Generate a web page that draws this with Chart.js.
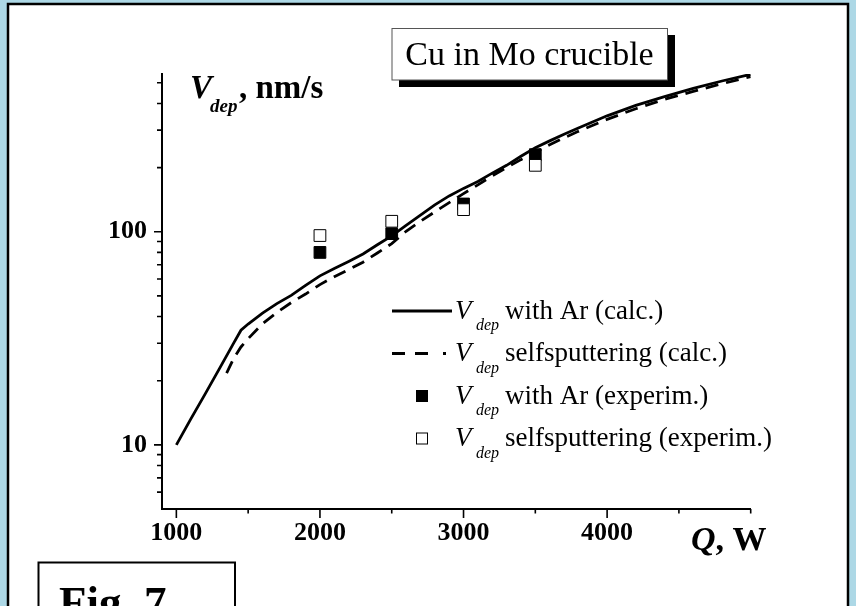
<!DOCTYPE html>
<html>
<head>
<meta charset="utf-8">
<script src="https://cdn.jsdelivr.net/npm/chart.js@4.4.1/dist/chart.umd.min.js"></script>
<style>
  html, body { margin: 0; padding: 0; background: #add8e6; }
  canvas { display: block; }
</style>
</head>
<body>
<canvas id="c" width="856" height="606"></canvas>
<script>
// Deposition rate of Cu evaporated from a Mo crucible versus discharge power
const powerAr = [1000, 1100, 1200, 1300, 1400, 1450, 1500, 1600, 1700, 1800, 1900, 2000, 2100, 2200, 2300, 2400, 2500, 2600, 2700, 2800, 2900, 3000, 3100, 3200, 3300, 3400, 3500, 3600, 3700, 3800, 4000, 4200, 4400, 4600, 4800, 5000];
const rateAr = [10, 13.2, 17.3, 22.8, 30.1, 34.5, 36.9, 41.5, 46.0, 50.3, 56.0, 62.1, 67.3, 72.6, 78.6, 86.9, 95.7, 107.2, 119.8, 133.7, 147.3, 159.8, 172.3, 188.4, 205, 226, 248, 267, 287, 307, 350, 392, 431, 471, 510, 548];

const powerSelf = [1350, 1400, 1450, 1500, 1600, 1700, 1800, 1900, 2000, 2100, 2200, 2300, 2400, 2500, 2600, 2700, 2800, 2900, 3000, 3100, 3200, 3300, 3400, 3500, 3600, 3700, 3800, 4000, 4200, 4400, 4600, 4800, 5000];
const rateSelf = [21.7, 25.5, 28.8, 31.5, 37, 41.8, 46.5, 51, 56.5, 61.5, 66.5, 72, 79.5, 88, 100.5, 112, 124, 137, 151, 166, 183, 200, 218, 236, 256, 276, 296, 337, 378, 418, 456, 495, 535];

const expPower = [2000, 2500, 3000, 3500];
const expRateAr = [80, 98, 135, 230];
const expRateSelf = [96, 112, 127, 205];

const xLabelTicks = [1000, 2000, 3000, 4000];
const xMajorTicks = [1000, 2000, 3000, 4000];
const xMinorTicks = [1500, 2500, 3500, 4500, 5000];
const yLabelTicks = [10, 100];
const yMajorTicks = [10, 100];
const yMinorTicks = [6, 7, 8, 9, 20, 30, 40, 50, 60, 70, 80, 90, 200, 300, 400, 500];

const chartTitle = 'Cu in Mo crucible';
const figLabel = 'Fig. 7';
const legendTexts = ['with Ar (calc.)', 'selfsputtering (calc.)', 'with Ar (experim.)', 'selfsputtering (experim.)'];

const SERIF = '"Liberation Serif", "Times New Roman", serif';
const toPoints = (xs, ys) => xs.map((x, i) => ({ x, y: ys[i] }));

// Page frame, title box and figure tag behind the plot
const framePlugin = {
  id: 'frame',
  beforeDraw(chart) {
    const ctx = chart.ctx;
    ctx.save();
    ctx.fillStyle = '#add8e6';
    ctx.fillRect(0, 0, 856, 606);
    ctx.fillStyle = '#ffffff';
    ctx.fillRect(8, 4, 840, 610);
    ctx.strokeStyle = '#000';
    ctx.lineWidth = 2.5;
    ctx.strokeRect(8, 4, 840, 620);

    // title box with drop shadow
    ctx.fillStyle = '#000';
    ctx.fillRect(399, 35, 276, 52);
    ctx.fillStyle = '#fff';
    ctx.fillRect(392, 28.5, 275.5, 51.5);
    ctx.strokeStyle = '#555';
    ctx.lineWidth = 1;
    ctx.strokeRect(392, 28.5, 275.5, 51.5);
    ctx.fillStyle = '#000';
    ctx.font = '34px ' + SERIF;
    ctx.textAlign = 'center';
    ctx.textBaseline = 'alphabetic';
    ctx.fillText(chartTitle, 529.5, 65);

    // figure tag
    ctx.strokeStyle = '#000';
    ctx.lineWidth = 2;
    ctx.strokeRect(38.5, 562.5, 196.5, 80);
    ctx.font = 'bold 45px ' + SERIF;
    ctx.textAlign = 'left';
    ctx.fillText(figLabel, 59, 616.5);
    ctx.restore();
  }
};

// Tick marks, axis titles and legend on top of the plot
const overlayPlugin = {
  id: 'overlay',
  afterDraw(chart) {
    const { ctx, chartArea: a } = chart;
    const xs = chart.scales.x, ys = chart.scales.y;
    ctx.save();
    ctx.strokeStyle = '#000';
    ctx.lineWidth = 1.6;
    ctx.beginPath();
    xMajorTicks.forEach(v => { const p = xs.getPixelForValue(v); ctx.moveTo(p, a.bottom); ctx.lineTo(p, a.bottom + 9); });
    xMinorTicks.forEach(v => { const p = xs.getPixelForValue(v); ctx.moveTo(p, a.bottom); ctx.lineTo(p, a.bottom + 4.5); });
    yMajorTicks.forEach(v => { const p = ys.getPixelForValue(v); ctx.moveTo(a.left, p); ctx.lineTo(a.left - 8, p); });
    yMinorTicks.forEach(v => { const p = ys.getPixelForValue(v); ctx.moveTo(a.left, p); ctx.lineTo(a.left - 5, p); });
    ctx.stroke();

    ctx.fillStyle = '#000';
    ctx.textAlign = 'left';
    ctx.textBaseline = 'alphabetic';
    // y axis title: V_dep, nm/s
    ctx.font = 'italic bold 33px ' + SERIF;
    ctx.fillText('V', 190, 98);
    ctx.font = 'italic bold 19px ' + SERIF;
    ctx.fillText('dep', 210, 112);
    ctx.font = 'bold 33px ' + SERIF;
    ctx.fillText(', nm/s', 239, 98);
    // x axis title: Q, W
    ctx.font = 'italic bold 34px ' + SERIF;
    ctx.fillText('Q', 691, 550);
    const qw = ctx.measureText('Q').width;
    ctx.font = 'bold 34px ' + SERIF;
    ctx.fillText(', W', 691 + qw, 550);

    // legend
    const ds = chart.data.datasets;
    ds.forEach((d, i) => {
      const cy = 311 + i * 42.5;
      if (d.showLine) {
        ctx.save();
        ctx.strokeStyle = d.borderColor;
        ctx.lineWidth = d.borderWidth;
        ctx.setLineDash(d.borderDash && d.borderDash.length ? [13, 10, 13, 15, 3, 40] : []);
        ctx.beginPath();
        ctx.moveTo(392, cy);
        ctx.lineTo(452, cy);
        ctx.stroke();
        ctx.restore();
      } else {
        ctx.save();
        ctx.fillStyle = d.backgroundColor;
        ctx.strokeStyle = d.borderColor;
        ctx.lineWidth = 1;
        ctx.fillRect(416, cy - 6, 12, 12);
        ctx.strokeRect(416.5, cy - 5.5, 11, 11);
        ctx.restore();
      }
      ctx.font = 'italic 27px ' + SERIF;
      ctx.fillText('V', 455, cy + 7.5);
      ctx.font = 'italic 16px ' + SERIF;
      ctx.fillText('dep', 476, cy + 19);
      ctx.font = '27px ' + SERIF;
      ctx.fillText(legendTexts[i], 505, cy + 7.5);
    });
    ctx.restore();
  }
};

new Chart(document.getElementById('c'), {
  type: 'scatter',
  data: {
    datasets: [
      {
        label: 'V_dep with Ar (calc.)',
        data: toPoints(powerAr, rateAr),
        showLine: true,
        borderColor: '#000',
        backgroundColor: '#000',
        borderWidth: 2.8,
        pointRadius: 0,
        tension: 0,
        order: 4
      },
      {
        label: 'V_dep selfsputtering (calc.)',
        data: toPoints(powerSelf, rateSelf),
        showLine: true,
        borderColor: '#000',
        backgroundColor: '#000',
        borderWidth: 2.8,
        borderDash: [13, 8],
        pointRadius: 0,
        tension: 0,
        order: 3
      },
      {
        label: 'V_dep with Ar (experim.)',
        data: toPoints(expPower, expRateAr),
        showLine: false,
        pointStyle: 'rect',
        pointRadius: 8.3,
        borderWidth: 1,
        borderColor: '#000',
        backgroundColor: '#000',
        order: 2
      },
      {
        label: 'V_dep selfsputtering (experim.)',
        data: toPoints(expPower, expRateSelf),
        showLine: false,
        pointStyle: 'rect',
        pointRadius: 8.3,
        borderWidth: 1,
        borderColor: '#000',
        backgroundColor: '#fff',
        order: 1
      }
    ]
  },
  options: {
    responsive: false,
    animation: false,
    devicePixelRatio: 1,
    layout: { padding: { left: 0, top: 74, right: 105.3, bottom: 0 } },
    plugins: {
      legend: { display: false },
      tooltip: { enabled: false },
      title: { display: false }
    },
    elements: { point: { hoverRadius: 8.3 } },
    scales: {
      x: {
        type: 'linear',
        position: 'bottom',
        min: 900,
        max: 5000,
        afterFit(scale) { scale.height = 606 - 509; },
        afterBuildTicks(scale) { scale.ticks = xLabelTicks.map(v => ({ value: v })); },
        grid: { display: true, drawOnChartArea: false, drawTicks: false },
        border: { display: true, color: '#000', width: 2 },
        ticks: {
          color: '#000',
          padding: 9,
          maxRotation: 0,
          autoSkip: false,
          font: { family: SERIF, size: 26, weight: 'bold' },
          callback: v => String(v)
        }
      },
      y: {
        type: 'logarithmic',
        position: 'left',
        min: 5,
        max: 550,
        afterFit(scale) { scale.width = 162; },
        afterBuildTicks(scale) { scale.ticks = yLabelTicks.map(v => ({ value: v })); },
        grid: { display: true, drawOnChartArea: false, drawTicks: false },
        border: { display: true, color: '#000', width: 2 },
        ticks: {
          color: '#000',
          padding: 15,
          autoSkip: false,
          font: { family: SERIF, size: 26, weight: 'bold' },
          callback: v => String(v)
        }
      }
    }
  },
  plugins: [framePlugin, overlayPlugin]
});
</script>
</body>
</html>
